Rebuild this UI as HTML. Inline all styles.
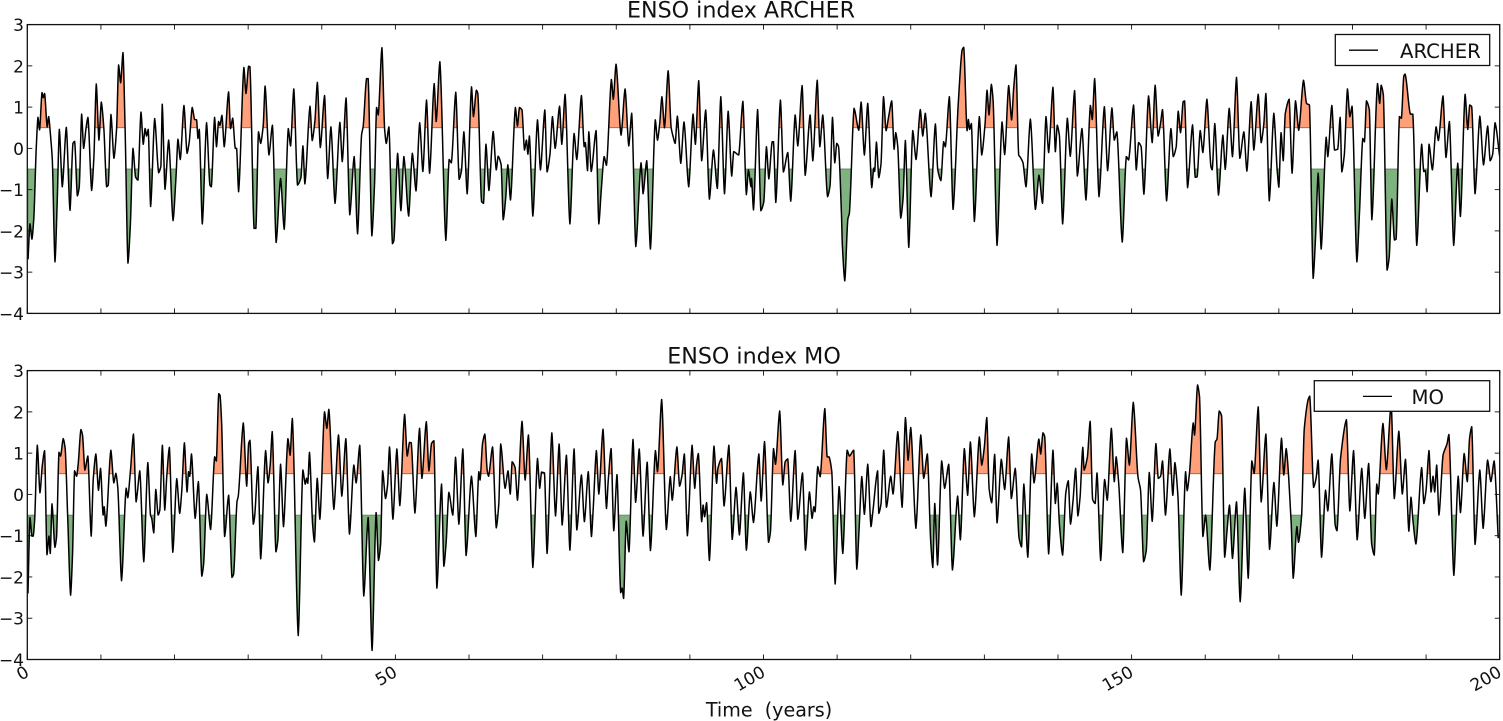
<!DOCTYPE html>
<html><head><meta charset="utf-8"><title>ENSO index</title>
<style>
html,body{margin:0;padding:0;background:#fff;width:1503px;height:721px;overflow:hidden}
svg{display:block}
text{font-family:"DejaVu Sans","Liberation Sans",sans-serif;fill:#111}
</style></head><body>
<svg id="chart" xmlns="http://www.w3.org/2000/svg" width="1503" height="721" viewBox="0 0 1503 721"></svg>
<script>
const archerYears=[
0.1,.36,.63,.9,1.2,1.45,1.67,2,2.17,2.35,2.7,2.9,3.17,3.4,3.76,4.07,4.35,4.75,5.3,5.8,
6.2,6.43,6.8,7.06,7.38,7.65,7.97,8.24,8.74,9.05,9.37,9.73,10.05,10.4,10.77,11,11.36,11.77,12.13,12.4,
12.68,13,13.3,13.67,14,14.35,14.7,15.03,15.44,15.75,16,16.2,16.43,16.75,17.3,17.84,18.15,18.33,18.7,19.2,
19.8,20.2,20.46,20.78,21.28,21.7,22,22.4,22.73,23,23.18,23.36,23.77,24.35,24.8,25,25.44,25.7,25.98,26.17,
26.44,26.75,27.34,27.6,27.9,28.25,28.43,28.7,29.42,29.7,30.06,30.24,30.8,31.05,31.4,31.7,32.05,32.3,32.82,33.3,
33.8,34.4,34.9,35.45,35.76,36.2,36.7,37.17,37.44,37.7,38.4,38.7,39.07,39.4,39.8,40.38,40.8,41.24,41.8,42.46,
42.78,43.3,43.8,44.4,44.86,45.4,45.63,46.08,46.3,46.8,47.17,47.44,47.67,48.17,48.53,48.76,49.12,49.6,49.8,50.3,
50.75,51.15,51.8,52.3,52.8,53.3,53.73,54.23,54.64,55.27,55.54,56.04,56.85,57.3,57.6,58.2,58.66,58.98,59.3,59.75,
60.34,60.6,61,61.2,61.7,61.97,62.3,62.7,63.28,63.7,63.96,64.37,64.64,65,65.27,65.63,66.3,66.58,66.85,67.2,
67.53,67.8,68,68.2,68.67,69.3,69.7,70.3,70.6,71,71.33,71.7,72.3,72.6,73.05,73.7,74.27,74.64,75.27,75.64,
75.8,76.1,76.27,76.6,77.26,77.63,77.94,78.35,78.67,79.34,79.6,79.97,80.65,81.2,81.7,82.1,82.65,83.37,83.64,84.14,
84.64,85.3,85.6,85.9,86.2,86.55,87.05,87.45,87.73,88,88.3,88.76,89.2,89.84,90.43,90.75,91.2,91.6,92.15,92.65,
93.2,93.73,94.2,94.7,95.2,95.68,95.95,96.63,97.2,97.67,97.95,98.3,98.37,98.64,99.2,99.64,100.05,100.4,100.72,101.18,
101.36,101.67,102.3,102.7,103.3,103.7,104.3,104.66,105.25,105.66,106.33,106.7,107.3,107.65,108.05,108.7,109.05,109.37,109.68,109.95,
110.2,110.6,110.7,111.04,111.45,111.67,112.3,112.94,113.26,113.7,114.16,114.7,114.98,115.1,115.34,115.66,115.97,116.3,116.65,117,
117.42,117.74,117.96,118.24,118.64,118.96,119.27,119.73,120.27,120.72,121.3,121.63,121.98,122.76,123.35,123.66,124.1,124.47,124.7,125.25,
125.75,126.43,126.97,127.2,127.65,127.83,128,128.24,128.64,129.32,129.64,130.1,130.36,130.63,130.95,131.2,131.72,132.4,132.76,133.3,
133.7,133.98,134.3,134.66,134.9,135.25,135.66,136.25,136.93,137.42,137.9,138.37,138.73,139.32,139.64,139.9,140.2,140.63,141.27,141.67,
142.26,142.63,143.26,143.8,144.4,144.66,144.98,145.57,146.3,146.74,147.33,147.64,148,148.73,149.28,149.6,150.27,150.63,150.95,151.3,
151.67,152.3,152.8,153.2,153.6,153.94,154.2,154.75,155.34,155.66,156.06,156.33,156.65,157,157.2,157.6,158.28,158.64,158.9,159.32,
159.68,160.23,160.77,160.95,161.3,161.8,162.4,162.72,163.26,163.7,164.25,164.7,165.25,165.66,166.24,166.6,167.2,167.6,167.96,168.24,
168.7,169.32,169.77,170,170.3,170.6,170.86,171.4,171.8,172.26,172.7,173.35,173.76,174.16,174.66,174.98,175.34,175.75,176.43,176.65,
177.2,177.56,178,178.33,178.55,178.9,179.32,179.64,179.95,180.6,180.95,181.4,181.63,181.9,182.3,182.63,183.4,183.7,183.9,184.2,
184.7,185,185.34,185.7,185.93,186.38,186.65,186.97,187.15,187.87,188.2,188.73,189.4,189.68,189.9,190.14,190.4,190.86,191.36,191.67,
192.3,192.7,193.17,193.75,194.3,194.66,195.3,195.66,195.93,196.2,196.65,197.3,197.8,198.37,198.7,199.05,199.37,200];
const archerValues=[
-2.69,-1.83,-2.2,-1.65,-.05,.75,.45,1.35,1.23,1.33,.52,.77,.28,-.28,-2.75,-1.25,.46,-.93,.51,-1.5,
.12,.17,-1.15,-.93,.83,0,.48,.75,-1.02,-.2,1.56,.2,1.12,.48,-.93,-.89,.82,-.24,.48,2.02,
1.59,2.32,.36,-2.78,-1.85,0,-.69,-.77,.88,.1,.48,.3,.46,-1.41,.72,-.59,-.43,1.07,-.99,.2,
-1.75,-.69,.22,-.27,1.04,-.12,.16,.99,.7,.69,.24,.46,-1.83,.62,-.89,-.93,.75,.04,.65,.56,
.8,.04,1.37,.48,.73,0,0,-1.05,1.96,1.33,1.99,1.98,-1.94,-1.94,.4,.12,.56,1.51,-.16,.56,
-2.28,-.73,-1.96,.48,.06,1.44,-.89,-.71,.06,-.86,1.02,.19,.67,1.6,.02,1.28,-.73,.52,-1.33,.63,
-.32,1.22,-1.61,-.2,-2.07,.32,.54,1.69,1.69,-2.12,-.85,.99,.81,2.44,.48,.12,.52,-2.31,-2.23,-.12,
-1.51,-.2,-1.64,-.12,-1.03,.62,-.56,1.17,-.6,1.57,.65,2.1,-2.23,-.27,-.35,1.36,-.75,-.54,.4,-1.1,
1.49,.77,1.41,1.33,-1.29,-1.33,.1,-1.02,.41,-.52,-.19,-.4,-1.73,-1.17,-.4,-1.25,.99,.54,.99,.93,
-.04,.2,-.14,.3,-1.64,.69,-.52,.93,-.57,-.14,.77,0,1.02,.1,1.31,-1.83,.36,-.27,1.28,.04,
.14,-.54,.4,-.56,.43,-1.83,-1.07,-.2,-.41,1.67,1.19,2.04,.32,1.44,.06,.85,-2.38,-.35,-1.1,-.3,
-2.44,.69,.2,.6,1.25,.5,1.88,.51,.28,.12,.78,-.36,.64,-.93,.83,.1,1.64,-.3,.93,-1.23,
-.04,-.97,1.25,-1.1,.9,-.67,-.08,-.16,1.14,-1.12,-.52,-.93,-.73,-1.49,.94,-1.51,-1.29,.04,-.74,.16,
.16,-1.31,1.17,-.57,-.1,-1.28,.81,.06,1.52,-.65,.81,-.3,1.65,.04,.81,-1.17,-.89,.75,-.35,.12,
.04,-1.65,-2.3,-3.21,-1.72,-1.57,.97,.44,1.12,-.16,1.09,-.95,-.48,-.56,.15,-.71,-.36,1.25,.43,.77,
1.15,-.02,.38,.04,-1.69,-1.21,.19,-2.4,.43,-.27,.94,.3,.85,-1.17,.59,-.51,-.78,.16,.04,1.25,
-1.48,1.02,2.38,2.45,.43,.7,.46,.6,-1.77,.77,-.16,.6,1.41,.81,1.55,1.13,-2.35,.64,-.15,1.52,
.69,1.45,2.02,-.16,-.22,-.35,-.93,.71,-1.48,-.65,-1.33,.77,-.1,1.48,-.08,.56,.3,-1.83,.73,-.19,
1.4,-.67,.48,-1.25,1.04,.7,1.69,-1.17,1.01,-.54,.98,.2,.4,-2.27,-.2,-.28,1.05,-.52,.14,.04,
-1.11,1.27,.14,1.53,.3,.62,.94,-1.27,.48,-.2,.04,.9,.38,1.13,1.15,-.95,.57,-.7,-.69,.43,
-.1,1.19,-.44,-.52,.6,-1.13,.32,-.51,.97,-.2,1.72,-.24,.4,-.55,1.13,-.04,1.31,.14,.59,1.33,
-1.27,.85,-.52,-.94,.38,-.3,.83,1.19,-.6,1.15,.44,1.65,1.09,1.05,-3.15,-2.18,-.6,-2.44,.27,-.2,
1.04,-.04,-.02,.75,-.57,-.14,1.44,.77,1.02,-2.75,-1.57,.24,.16,1.15,.93,-1.73,1.57,1.09,1.53,1.29,
-2.95,-2.62,-1.23,-2.22,-2.2,.77,.73,1.75,1.8,.83,.83,-2.35,.1,-.56,-.54,-1.05,.1,-.52,.52,.19,
1.27,-.22,.65,-2.35,-.36,-1.65,1.31,.46,1.05,1.01,-1.1,.78,-.4,.54,-.3,-.14,.62,-.2];

const moYears=[
.09,.36,.63,.8,1,1.36,1.72,2.03,2.35,2.67,2.94,3.12,3.35,3.75,3.98,4.3,4.52,4.88,5.15,5.5,
5.88,6.15,6.42,6.7,6.92,7.28,7.5,7.82,8.23,8.68,8.95,9.31,9.67,9.95,10.3,10.44,10.67,11.35,11.75,12.03,
12.3,12.8,13.43,13.65,14,14.42,14.78,14.96,15.28,15.82,16.37,16.73,16.9,17.18,17.45,17.77,18,18.35,18.67,18.94,
19.3,19.76,20.3,20.7,20.98,21.34,21.7,21.9,22.06,22.3,22.8,23.24,23.7,23.96,24.37,24.9,25.45,25.68,26,26.18,
26.4,26.8,27.35,27.8,28.03,28.48,28.66,29.34,29.8,30.06,30.24,30.7,30.88,31.33,31.7,32.37,32.7,33,33.27,33.77,
34.04,34.4,34.8,35.4,35.7,36,36.8,37.43,37.75,37.93,38.1,38.33,38.74,39,39.38,39.74,40.37,40.69,40.96,41.64,
42.27,42.72,43.27,43.76,44.35,44.67,45.16,45.7,46.3,46.83,47.38,47.7,48,48.26,48.66,48.94,49.2,49.66,50.2,50.6,
51.25,51.6,51.92,52.15,52.65,53.28,53.6,54.2,54.55,54.9,55.23,55.63,56.27,56.58,56.9,57.26,57.8,58.17,58.62,59.16,
59.6,60.33,60.93,61.33,61.5,61.83,62.15,62.46,62.65,63.2,63.7,64.05,64.3,64.9,65.3,65.6,65.86,66.26,66.58,67.2,
67.62,68.07,68.67,69.3,69.6,69.85,70.25,70.6,71.25,71.75,72.24,72.65,73.23,73.7,74.27,74.64,75.27,75.67,76.2,76.63,
76.86,77.3,77.63,78.2,78.67,78.9,79.3,79.66,80.1,80.6,80.8,81,81.35,81.73,82.27,82.63,83.12,83.64,84.2,84.64,
85.32,85.6,86.17,86.8,87.34,87.6,88.24,88.6,88.94,89.25,89.66,90.3,90.66,90.9,91.15,91.6,91.8,92,92.27,92.65,
93.27,93.63,93.8,94.3,94.64,95.3,95.75,96.27,96.73,97.27,97.67,98.2,98.64,99.37,99.68,100.14,100.68,100.95,101.36,101.63,
102.2,102.62,102.94,103.3,103.7,104.3,104.66,105.3,105.7,106.24,106.6,106.83,107,107.37,107.7,108.33,108.64,108.9,109.28,109.73,
110.27,110.77,111.36,111.67,112.26,112.67,113,113.35,113.7,114.16,114.6,114.84,115.5,115.66,115.97,116.33,116.7,117.28,117.6,118.24,
118.83,119.28,119.64,120,120.7,121.36,121.76,122.26,122.7,123,123.26,123.64,124.2,124.6,125.16,125.66,126.37,126.74,127.28,127.73,
128.1,128.64,129.32,129.64,130,130.33,130.64,131,131.4,131.72,132.3,132.76,133.3,133.66,134.2,134.7,135.05,135.36,135.9,136.43,
136.75,137.4,137.65,137.96,138.2,138.73,139.32,139.64,139.9,140.2,140.63,141.05,141.4,141.7,142.05,142.4,142.7,143,143.37,143.55,
144,144.37,144.7,145.05,145.3,145.8,146.33,146.7,147.25,147.65,147.9,148.25,148.8,149.3,149.7,150.23,150.86,151.22,151.63,152,
152.4,152.8,153.3,153.62,153.94,154.2,154.6,155.2,155.6,155.88,156.3,156.74,157.33,157.55,157.87,158.37,158.55,158.96,159.23,159.68,
160.05,160.63,161.36,161.6,161.9,162.23,162.64,162.95,163.3,163.7,164.25,164.75,165.37,165.84,166.33,166.65,167.2,167.6,168.24,168.74,
169.33,169.73,170.36,170.67,171,171.68,171.95,172.45,172.67,173.1,173.44,173.95,174.2,174.72,175.06,175.34,175.8,176.34,176.65,177.2,177.65,
177.9,178.37,179.18,179.64,180.15,180.64,181.26,181.67,182.2,182.6,182.96,183.3,183.5,184.14,184.6,185.26,185.68,186.3,186.77,187.2,
187.66,187.95,188.2,188.62,189.4,189.7,190,190.4,190.67,190.95,191.17,191.44,191.75,192.3,192.85,193.1,193.77,194.36,194.67,195.17,
195.6,195.9,196.2,196.65,197.3,197.75,198.35,198.8,199.25,199.8];
const moValues=[
-2.4,-.56,-1.01,-1.01,-.62,1.19,.04,.69,1.06,-1.46,-1.01,-1.43,-.23,-1.28,-1.02,1.02,.93,1.35,1.11,-.62,
-2.44,-1.43,.57,.44,.75,1.57,1.44,.59,.93,-1.01,.35,.98,.1,.63,-.5,-.3,-.77,1.07,.28,.51,
.15,-2.09,.15,-.08,.55,1.46,-.18,.06,.57,-1.63,.77,-.5,-.58,-.93,.12,-.5,-.38,1.19,-.38,.43,
1.14,-1.4,.38,-.46,.08,1.25,.06,.55,.44,.98,-.58,.31,-1.98,-1.67,0,-.85,.91,.81,2.44,2.4,
1.72,-1.02,-.02,-2.01,-1.93,-.18,-.04,1.73,.2,1.23,1.31,-.72,-.54,.67,-1.56,1.06,.28,.73,1.52,-1.39,
-1.1,.73,-.78,1.35,.95,1.84,-3.42,.59,.25,.39,.27,1.02,-.69,-1.15,.39,-.6,2,1.6,2.06,-.36,
1.44,-.04,1.35,-.96,.71,.28,1.19,-2.46,-.56,-3.78,-.44,-1.6,-1.19,.57,-.1,.23,1.15,-.6,1.1,-.27,
1.94,.93,1.26,1.25,-.45,1.6,.39,1.76,.57,1.23,1.3,-2.27,.25,-1.74,-1.15,.05,-.5,.9,-.72,1.1,
-1.48,.44,-1.02,.55,.35,1.23,1.46,.59,.44,1.15,-.81,-.22,1.22,.15,.57,.01,.79,.65,-.14,1.77,
.35,1.44,-1.77,.87,.15,.54,.52,-1.43,1.49,-.52,1.22,-.74,.95,-1.35,1.1,-.86,.47,-.66,.55,-1.02,
-.38,1.06,.01,1.58,-.34,.31,1.11,-.88,.48,-2.38,-2.27,-2.52,-.65,-1.39,1.33,-.19,1.1,-1.01,.78,-1.36,
1.06,.55,2.3,-.85,.43,-.14,1.15,.2,.47,.98,-1,1.19,.15,.71,.99,-.66,-.26,-.54,-.2,-1.6,
1.17,.27,.63,.87,-.28,1.19,-1.09,.17,-.98,.52,-1.35,.06,-.68,.98,-.16,1.28,-1.16,-.9,1.11,.73,
2.02,.23,.79,.86,-.65,1.06,-.6,.52,-1.35,.06,-.58,-.3,-.42,.67,.43,2.08,.91,.91,.55,-2.17,
.19,-1.43,1.07,.93,1.07,-1.81,-.78,.43,-.48,.73,-.78,-.44,.57,-.46,-.22,1.07,-.31,.44,.01,1.52,
-.31,1.86,.83,1.62,-.82,1.44,.39,.98,-1.1,-1.77,-.22,-1.71,.81,.15,.73,-1.83,-.04,-1.1,1.11,-.02,
1.27,-.54,1.39,.71,1.15,1.86,.15,-.2,.97,-.69,.85,.12,1.39,-.1,.63,-1.04,-1.27,.25,-1.52,.98,
.28,1.34,.98,1.49,1.4,-1.44,1.07,-.22,.27,-.74,-1.47,.02,.33,-.72,-.14,.63,-.52,-.07,1.14,.59,
.91,1.77,-.12,-.22,.52,-1.6,.36,-.14,1.6,.31,.91,.27,-1.41,1.36,.71,2.23,.43,.1,-1.63,-1.35,
.53,-.65,1.23,.39,.44,.81,-.5,1.1,-.02,.77,-.06,-2.44,.55,.09,.53,1.73,1.44,2.65,2.36,-1.02,
-.5,-1.83,1.27,1.34,2.02,1.9,-1.52,-.9,-.26,-1.55,-.18,-2.6,.15,-2.03,.81,.51,2.12,-.18,1.46,-1.33,
.29,-.77,1.36,.47,1.11,-.7,-2.03,-.78,-1.16,-.5,1.56,2.28,2.38,.17,.39,.83,-1.52,.1,-.4,.98,-.74,
-.88,.86,1.81,-.4,1.06,-1.1,.63,-.58,.75,-1.19,-1.47,.25,.01,1.72,.6,2.2,-.1,1.53,.01,.85,
-.89,-.07,-.6,-1.2,.65,-.22,.1,1.06,.06,.44,.06,.71,-.5,.95,1.23,1.45,-1.96,.44,-.44,.99,
.31,1.35,1.64,-1.21,.59,-.82,.83,.31,.81,-1.06];

const yTickValues=[3,2,1,0,-1,-2,-3,-4];
const xMinorTicks=[0,10,20,30,40,50,60,70,80,90,100,110,120,130,140,150,160,170,180,190,200];
const xTickLabels=[0,50,100,150,200];
const upperThreshold=0.5;
const lowerThreshold=-0.5;

const NS='http://www.w3.org/2000/svg';
const svg=document.getElementById('chart');
const xLeft=27.3,xRight=1499.7;
const xScale=t=>xLeft+(xRight-xLeft)*t/200;

function mk(tag,attrs,parent){
  const e=document.createElementNS(NS,tag);
  for(const k in attrs)e.setAttribute(k,attrs[k]);
  (parent||svg).appendChild(e);
  return e;
}
/* blend of straight segments and monotone cubic: narrow tips, nearly straight flanks */
function resample(ts,vs){
  const n=Math.min(ts.length,vs.length),d=[],m=[],out=[],mix=0.65;
  for(let i=0;i<n-1;i++)d.push((vs[i+1]-vs[i])/(ts[i+1]-ts[i]));
  m[0]=d[0];m[n-1]=d[n-2];
  for(let i=1;i<n-1;i++)m[i]=d[i-1]*d[i]<=0?0:2*d[i-1]*d[i]/(d[i-1]+d[i]);
  for(let i=0;i<n-1;i++){
    const h=ts[i+1]-ts[i],steps=Math.max(2,Math.ceil(h/0.04));
    for(let s=0;s<steps;s++){
      const u=s/steps,u2=u*u,u3=u2*u;
      const cubic=(2*u3-3*u2+1)*vs[i]+(u3-2*u2+u)*h*m[i]+(-2*u3+3*u2)*vs[i+1]+(u3-u2)*h*m[i+1];
      const linear=vs[i]+u*(vs[i+1]-vs[i]);
      out.push([ts[i]+u*h,mix*cubic+(1-mix)*linear]);
    }
  }
  out.push([ts[n-1],vs[n-1]]);
  return out;
}
function excursions(pts,thr,sign){
  const runs=[];let cur=null;
  for(let i=0;i<pts.length;i++){
    const inside=sign*(pts[i][1]-thr)>0;
    if(inside&&!cur){
      cur=[];
      if(i>0){const a=pts[i-1],b=pts[i],f=(thr-a[1])/(b[1]-a[1]);cur.push([a[0]+f*(b[0]-a[0]),thr]);}
      else cur.push([pts[0][0],thr]);
    }
    if(inside)cur.push(pts[i]);
    if(!inside&&cur){
      const a=pts[i-1],b=pts[i],f=(thr-a[1])/(b[1]-a[1]);cur.push([a[0]+f*(b[0]-a[0]),thr]);
      runs.push(cur);cur=null;
    }
  }
  if(cur){cur.push([pts[pts.length-1][0],thr]);runs.push(cur);}
  return runs;
}
function drawPanel(key,top,bottom,ts,vs,title,titleX,titleBase,legend){
  const yScale=v=>top+(bottom-top)*(3-v)/7;
  const g=mk('g',{});
  
  
  const clip=mk('clipPath',{id:'clip-'+key},g);
  mk('rect',{x:xLeft,y:top,width:xRight-xLeft,height:bottom-top},clip);
  const plot=mk('g',{'clip-path':'url(#clip-'+key+')'},g);
  const pts=resample(ts,vs);
  const polyD=r=>'M'+r.map(p=>xScale(p[0]).toFixed(2)+' '+yScale(p[1]).toFixed(2)).join('L')+'Z';
  excursions(pts,upperThreshold,1).forEach(r=>{
    const f=mk('path',{d:polyD(r),fill:'#ffa07a',stroke:'#7a5a4a','stroke-width':.7},plot);
    
    
  });
  excursions(pts,lowerThreshold,-1).forEach(r=>{
    const f=mk('path',{d:polyD(r),fill:'#7fb27f',stroke:'#4f7a4f','stroke-width':.7},plot);
    
    
  });
  const line=mk('path',{d:'M'+pts.map(p=>xScale(p[0]).toFixed(2)+' '+yScale(p[1]).toFixed(2)).join('L'),fill:'none',stroke:'#000','stroke-width':1.5,'stroke-linejoin':'round'},plot);
  
  
  /* spines */
  const frame=mk('rect',{x:xLeft,y:top,width:xRight-xLeft,height:bottom-top,fill:'none',stroke:'#111','stroke-width':1.3},g);
  
  
  /* y ticks */
  yTickValues.forEach(v=>{
    const y=yScale(v);
    const t1=mk('line',{x1:xLeft,x2:xLeft+5,y1:y,y2:y,stroke:'#111','stroke-width':.9},g);
    
    
    const t2=mk('line',{x1:xRight-5,x2:xRight,y1:y,y2:y,stroke:'#111','stroke-width':.9},g);
    
    
    const lab=mk('text',{x:24,y:y+6.5,'text-anchor':'end','font-size':17},g);
    
    
    lab.textContent=(v<0?'\u2212':'')+Math.abs(v);
  });
  /* x ticks */
  xMinorTicks.forEach(t=>{
    const x=xScale(t);
    const a=mk('line',{x1:x,x2:x,y1:top,y2:top+5,stroke:'#111','stroke-width':.9},g);
    
    
    const b=mk('line',{x1:x,x2:x,y1:bottom-5,y2:bottom,stroke:'#111','stroke-width':.9},g);
    
    
  });
  const tt=mk('text',{x:titleX,y:titleBase,'text-anchor':'middle','font-size':22.2},g);
  
  
  tt.textContent=title;
  /* legend */
  const lg=mk('g',{},g);
  
  
  mk('rect',{x:legend.x,y:legend.y,width:legend.w,height:legend.h,fill:'#fff',stroke:'#111','stroke-width':1.3},lg);
  mk('line',{x1:legend.lx,x2:legend.lx+29,y1:legend.y+15.7,y2:legend.y+15.7,stroke:'#000','stroke-width':1.3},lg);
  const lt=mk('text',{x:legend.tx,y:legend.y+23.4,'font-size':19.7},lg);
  
  
  lt.textContent=legend.label;
}
drawPanel('archer',24.6,313.4,archerYears,archerValues,'ENSO index ARCHER',741,17.5,
  {x:1335.3,y:34.5,w:154.4,h:31,lx:1349,tx:1400,label:'ARCHER'});
drawPanel('mo',370.6,659.5,moYears,moValues,'ENSO index MO',754,363.5,
  {x:1314.3,y:380.7,w:175.4,h:30.6,lx:1363,tx:1411.5,label:'MO'});

xTickLabels.forEach(t=>{
  const lab=mk('text',{transform:'translate('+(xScale(t)+3).toFixed(1)+',675.5) rotate(-30)','text-anchor':'end','font-size':17});
  
  
  lab.textContent=t;
});
const xt=mk('text',{x:769,y:716.5,'text-anchor':'middle','font-size':19.1,'xml:space':'preserve'});


xt.style.whiteSpace='pre';
xt.textContent='Time  (years)';
</script>
</body></html>
